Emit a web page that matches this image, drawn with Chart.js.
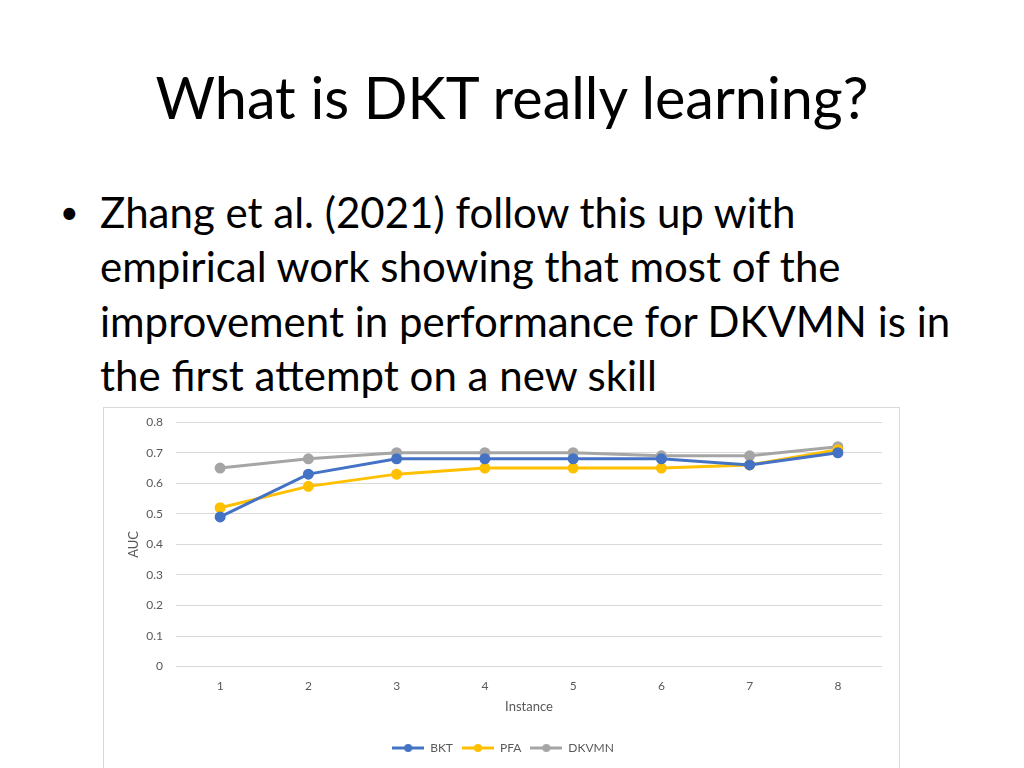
<!DOCTYPE html>
<html>
<head>
<meta charset="utf-8">
<script src="https://cdn.jsdelivr.net/npm/chart.js@4.4.0/dist/chart.umd.min.js"></script>
<style>
  html, body { margin: 0; padding: 0; background: #fff; width: 1024px; height: 768px; overflow: hidden; }
  body { position: relative; font-family: Lato, "Open Sans", sans-serif; color: #000; }
  #title { position: absolute; left: 0; width: 1024px; top: 62px; text-align: center; font-size: 57.5px; line-height: 70px; }
  #bullet { position: absolute; left: 58px; top: 185px; font-size: 42px; line-height: 54.3px; }
  #bullet .dot { position: absolute; left: 2px; top: 0; font-size: 32px; }
  #bullet .txt { position: absolute; left: 42px; top: 0; white-space: nowrap; }
  #box { position: absolute; left: 103px; top: 407px; width: 795px; height: 380px; border: 1px solid #d9d9d9; background: #fff; overflow: hidden; }
  #box canvas { display: block; margin-top: -6px; }
</style>
</head>
<body>
<div id="title">What is DKT really learning?</div>
<div id="bullet">
  <span class="dot">•</span>
  <div class="txt">Zhang et al. (2021) follow this up with<br>empirical work showing that most of the<br>improvement in performance for DKVMN is in<br>the first attempt on a new skill</div>
</div>
<div id="box"><canvas id="aucChart" width="795" height="372"></canvas></div>
<script>
var instances = ['1', '2', '3', '4', '5', '6', '7', '8'];
var bktAuc = [0.49, 0.63, 0.68, 0.68, 0.68, 0.68, 0.66, 0.70];
var pfaAuc = [0.52, 0.59, 0.63, 0.65, 0.65, 0.65, 0.66, 0.71];
var dkvmnAuc = [0.65, 0.68, 0.70, 0.70, 0.70, 0.69, 0.69, 0.72];

var colors = { BKT: '#4472C4', PFA: '#FFC000', DKVMN: '#A5A5A5' };

// little line + dot used as the legend symbol
function legendMark(color) {
    var c = document.createElement('canvas');
    c.width = 32; c.height = 10;
    var g = c.getContext('2d');
    g.strokeStyle = color; g.lineWidth = 3;
    g.beginPath(); g.moveTo(0, 5); g.lineTo(32, 5); g.stroke();
    g.fillStyle = color;
    g.beginPath(); g.arc(16, 5, 4, 0, Math.PI * 2); g.fill();
    return c;
}

function series(label, data) {
    return {
        label: label,
        data: data,
        borderColor: colors[label],
        backgroundColor: colors[label],
        borderWidth: 3,
        pointRadius: 4,
        pointHoverRadius: 4,
        tension: 0
    };
}

var ctx = document.getElementById('aucChart').getContext('2d');
var aucChart = new Chart(ctx, {
    type: 'line',
    data: {
        labels: instances,
        datasets: [
            series('BKT', bktAuc),
            series('PFA', pfaAuc),
            series('DKVMN', dkvmnAuc)
        ]
    },
    options: {
        responsive: false,
        animation: false,
        layout: { padding: { top: 8, right: 17, bottom: 10, left: 20 } },
        plugins: {
            legend: {
                position: 'bottom',
                labels: {
                    usePointStyle: true,
                    pointStyleWidth: 32,
                    boxHeight: 10,
                    color: '#595959',
                    font: { family: 'Lato', size: 12 },
                    padding: 9,
                    generateLabels: function(chart) {
                        return chart.data.datasets.map(function(ds, i) {
                            return {
                                text: ds.label,
                                pointStyle: legendMark(ds.borderColor),
                                fillStyle: ds.borderColor,
                                strokeStyle: ds.borderColor,
                                lineWidth: 0,
                                fontColor: '#595959',
                                datasetIndex: i
                            };
                        });
                    }
                }
            },
            tooltip: { enabled: false }
        },
        scales: {
            x: {
                offset: true,
                grid: { display: false, drawTicks: false },
                border: { display: false },
                ticks: { color: '#595959', font: { family: 'Lato', size: 12 }, padding: 12 },
                title: { display: true, text: 'Instance', color: '#595959', font: { family: 'Lato', size: 13, lineHeight: 1 }, padding: { top: -5, bottom: 20 } }
            },
            y: {
                min: 0,
                max: 0.8,
                grid: { color: '#d9d9d9', drawTicks: false },
                border: { display: false },
                ticks: {
                    stepSize: 0.1,
                    color: '#595959',
                    font: { family: 'Lato', size: 12 },
                    padding: 13,
                    callback: function(v) { return Math.round(v * 10) / 10; }
                },
                title: { display: true, text: 'AUC', color: '#595959', font: { family: 'Lato', size: 13 }, padding: 2 },
                afterFit: function(scale) { scale.width = 52; }
            }
        }
    }
});
</script>
</body>
</html>
